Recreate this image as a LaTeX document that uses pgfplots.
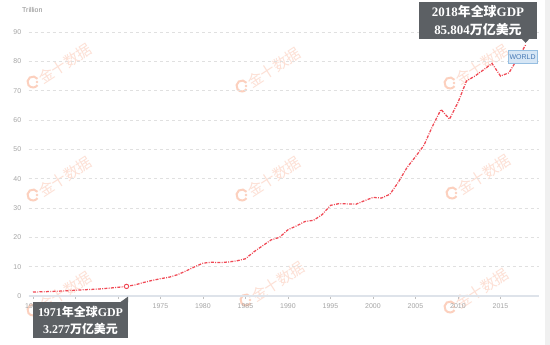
\documentclass[border=0pt]{standalone}
\usepackage{pgfplots}
\pgfplotsset{compat=1.18}
\usepackage{fontspec}
\setmainfont{Liberation Sans}
\newfontfamily\cjk{Noto Sans CJK SC}
\newfontfamily\serifb{Liberation Serif}
\definecolor{linecol}{RGB}{240,72,84}
\definecolor{boxcol}{RGB}{92,96,100}
\definecolor{gridcol}{RGB}{224,224,224}
\definecolor{tickcol}{RGB}{165,165,165}
\definecolor{axiscol}{RGB}{222,227,234}
\definecolor{wm}{RGB}{253,224,213}
\definecolor{wmlogo}{RGB}{252,208,190}
\definecolor{worldfill}{RGB}{214,230,245}
\definecolor{worlddraw}{RGB}{150,190,225}
\definecolor{worldtext}{RGB}{70,120,180}
\newcommand{\Sb}[1]{{\serifb\bfseries #1}}
\newcommand{\Cb}[1]{{\cjk\bfseries #1}}
\pgfplotstableread{
year gdp
1960 1.37
1961 1.42
1962 1.53
1963 1.64
1964 1.80
1965 1.96
1966 2.13
1967 2.26
1968 2.44
1969 2.69
1970 2.96
1971 3.277
1972 3.78
1973 4.60
1974 5.30
1975 5.90
1976 6.40
1977 7.26
1978 8.54
1979 9.93
1980 11.20
1981 11.50
1982 11.40
1983 11.60
1984 12.00
1985 12.70
1986 15.10
1987 17.10
1988 19.10
1989 20.00
1990 22.60
1991 23.90
1992 25.40
1993 25.80
1994 27.70
1995 30.90
1996 31.50
1997 31.40
1998 31.30
1999 32.50
2000 33.60
2001 33.40
2002 34.70
2003 38.90
2004 43.80
2005 47.50
2006 51.40
2007 57.90
2008 63.60
2009 60.30
2010 66.00
2011 73.30
2012 75.00
2013 77.10
2014 79.30
2015 75.00
2016 76.10
2017 80.90
2018 85.804
}\gdpdata
\begin{document}
\begin{tikzpicture}
\path[use as bounding box, fill=white] (-28.75bp,-49bp) rectangle (521.25bp,296bp);
% watermarks and page decorations in pixel coordinates
\begin{scope}[x=1bp,y=-1bp,shift={(-28.75bp,296bp)}]
\foreach \lx/\ly in {33/82,242/86,450/83,33/195,242/195,452/193,33/310,246/300,450/307}{
  \draw[wmlogo, line width=2bp] (\lx,\ly) ++(35:5.5bp) arc[start angle=35,end angle=325,radius=5.5bp];
  \fill[wmlogo] (\lx,\ly) ++(4bp,0) circle (1.3bp);
  \node[rotate=33, anchor=west, text=wm, font=\cjk\fontsize{15}{15}\selectfont, inner sep=0pt] at (\lx+7,\ly-2) {金十数据};
}
\node[anchor=west, text=tickcol!85!black, font=\fontsize{7}{8}\selectfont, inner sep=0pt] at (22,10) {Trillion};
\fill[gray!12] (545,0) rectangle (550,345);
\end{scope}
\begin{axis}[
  at={(0,0)}, anchor=south west,
  scale only axis, width=510bp, height=264bp,
  xmin=1959.5, xmax=2019.5, ymin=0, ymax=90,
  xtick={1960,1965,...,2015}, ytick={0,10,...,90},
  /pgf/number format/assume math mode=true,
  xticklabel style={/pgf/number format/1000 sep={}, font=\fontsize{7}{8}\selectfont, text=tickcol, yshift=-1bp},
  yticklabel style={font=\fontsize{7}{8}\selectfont, text=tickcol, xshift=-1bp},
  axis x line*=bottom, axis y line*=left,
  x axis line style={draw=axiscol, line width=1.6bp},
  y axis line style={draw=none},
  ymajorgrids, grid style={gridcol, dashed, line width=0.6bp},
  xtick style={draw=tickcol!70, line width=0.5bp},
  ytick style={draw=none},
  tick align=outside, major tick length=3bp,
  clip=false,
]
\addplot[linecol, line width=1.25bp, dash pattern=on 3bp off 1.3bp on 0.9bp off 1.3bp] table[x=year,y=gdp] {\gdpdata};
\addplot[only marks, mark=*, mark size=2.2bp, mark options={fill=white, draw=linecol, line width=0.9bp}] coordinates {(1971,3.277)};
% 2018 callout
\fill[boxcol] (axis cs:2005.4,87.6) rectangle (axis cs:2019.3,100.2);
\fill[boxcol] (axis cs:2017.5,87.7) -- (axis cs:2017.95,86.3) -- (axis cs:2018.4,87.7) -- cycle;
\node[text=white, align=center, font=\fontsize{13}{17.5}\selectfont, inner sep=0pt] at (axis cs:2012.35,93.9) {\Sb{2018}\Cb{年全球}\Sb{GDP}\\\Sb{85.804}\Cb{万亿美元}};
\node[fill=worldfill, draw=worlddraw, line width=0.6bp, text=worldtext, font=\fontsize{7}{8}\selectfont, inner xsep=1.5bp, inner ysep=2bp, minimum height=13bp] at (axis cs:2017.6,81.4) {WORLD};
% 1971 callout
\fill[boxcol] (axis cs:1960.0,-2.1) rectangle (axis cs:1971.18,-14.4);
\fill[boxcol] (axis cs:1970.25,-2.15) -- (axis cs:1971.18,-0.2) -- (axis cs:1971.18,-2.15) -- cycle;
\node[text=white, align=center, font=\fontsize{12}{16.5}\selectfont, inner sep=0pt] at (axis cs:1965.59,-8.25) {\Sb{1971}\Cb{年全球}\Sb{GDP}\\\Sb{3.277}\Cb{万亿美元}};
\end{axis}
\end{tikzpicture}
\end{document}
